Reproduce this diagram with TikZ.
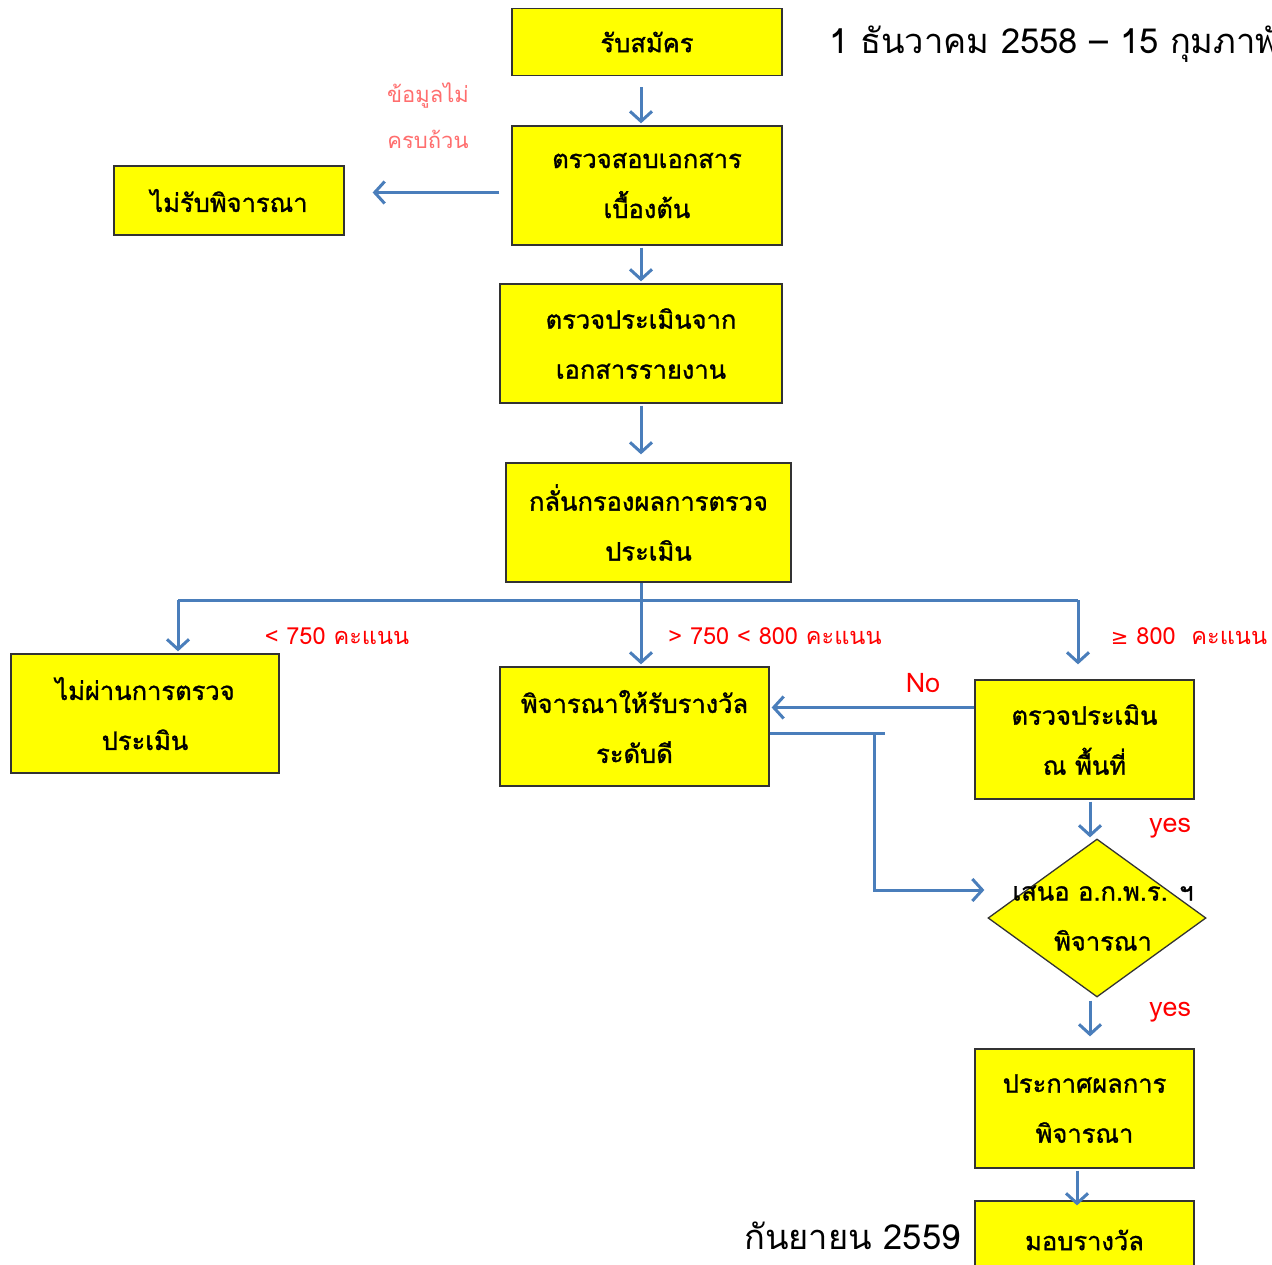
\documentclass[tikz,border=0pt]{standalone}
\usepackage{fontspec}
\usetikzlibrary{arrows.meta,shapes.geometric}
\newfontfamily\thaifont[Script=Thai]{Loma}
\newfontfamily\thaiboxfont[Script=Thai,FakeBold=1.2]{Loma}
\newfontfamily\symfont{DejaVu Sans}
\definecolor{flowblue}{RGB}{74,126,187}
\definecolor{boxyellow}{RGB}{255,255,0}
\definecolor{notered}{RGB}{255,0,0}
\definecolor{palered}{RGB}{255,110,110}

\tikzset{
  box/.style={draw=black!80, fill=boxyellow, line width=1.3pt, align=center,
    inner sep=0pt, minimum height=119, text depth=0pt,
    font=\thaiboxfont\fontsize{25.5}{50}\selectfont},
  boxtext/.style={align=center, text depth=0pt,
    font=\thaiboxfont\fontsize{25.5}{50}\selectfont},
  link/.style={draw=flowblue, line width=3pt},
  flow/.style={link, -{Straight Barb[length=10pt,width=22pt,line width=3pt]}},
  note/.style={text=notered, font=\thaifont\fontsize{23.5}{46}\selectfont},
  datetext/.style={font=\thaifont\fontsize{34.5}{40}\selectfont}
}

\begin{document}
\begin{tikzpicture}[x=1pt, y=-1pt]
    \useasboundingbox (0,0) rectangle (1272,1265);

    % boxes of the main column
    \node[box, minimum width=270, minimum height=67] (start) at (647,42) {รับสมัคร};
    \node[box, minimum width=270] (checkdoc) at (647,185.5) {ตรวจสอบเอกสาร\\เบื้องต้น};
    \node[box, minimum width=230, minimum height=69] (reject) at (229,200.5) {ไม่รับพิจารณา};
    \node[box, minimum width=282] (evaldoc) at (641,343.5) {ตรวจประเมินจาก\\เอกสารรายงาน};
    \node[box, minimum width=285] (screen) at (648.5,522.5) {กลั่นกรองผลการตรวจ\\ประเมิน};

    % result boxes
    \node[box, minimum width=268] (fail) at (145,713.5) {ไม่ผ่านการตรวจ\\ประเมิน};
    \node[box, minimum width=269] (good) at (634.5,726.5) {พิจารณาให้รับรางวัล\\ระดับดี};
    \node[box, minimum width=219] (onsite) at (1084.5,739.5) {ตรวจประเมิน\\ณ พื้นที่};
    \node[box, shape=diamond, minimum width=218, minimum height=158] (propose) at (1097,918) {};
    \node[boxtext] (proposetext) at (1103,918) {เสนอ อ.ก.พ.ร. ฯ\\พิจารณา};
    \node[box, minimum width=219] (announce) at (1084.5,1108.5) {ประกาศผลการ\\พิจารณา};
    \node[box, minimum width=219, minimum height=90] (award) at (1084.5,1246) {};
    \node[boxtext] (awardtext) at (1084.5,1240) {มอบรางวัล};

    % dates
    \node[datetext, anchor=west] (datefrom) at (826,43) {1 ธันวาคม 2558 – 15 กุมภาพันธ์ 2559};
    \node[datetext, anchor=east] (dateto) at (964,1236) {กันยายน 2559};

    % arrows down the column
    \draw[flow, shorten <=11pt, shorten >=2pt] ([xshift=-6]start.south) -- ([xshift=-6]checkdoc.north);
    \draw[flow, shorten <=2pt, shorten >=2pt] ([xshift=-6]checkdoc.south) -- (evaldoc.north);
    \draw[flow, shorten <=2pt, shorten >=8pt] (evaldoc.south) -- ([xshift=-7.5]screen.north);
    \draw[flow, shorten <=12pt, shorten >=28pt] ([yshift=-7]checkdoc.west) -- ([yshift=-7]checkdoc.west -| reject.east);
    \node[text=palered, font=\thaifont\fontsize{22}{46}\selectfont, align=center] (incomplete) at (428,116)
      {ข้อมูลไม่\\ครบถ้วน};

    % split by score
    \coordinate (split) at (641,600);
    \coordinate (lefttop) at (178,600);
    \coordinate (righttop) at (1078,600);
    \draw[link] ([xshift=-7.5]screen.south) -- (split);
    \draw[link] (lefttop) -- (righttop);
    \draw[flow, shorten >=2pt] (lefttop) -- (lefttop |- fail.north);
    \draw[flow, shorten >=2pt] (split) -- (split |- good.north);
    \draw[flow, shorten >=15pt] (righttop) -- (righttop |- onsite.north);
    \node[note] (low) at (337,636) {< 750 คะแนน};
    \node[note] (mid) at (775,636) {> 750 < 800 คะแนน};
    \node[note] (high) at (1189,636) {{\symfont\fontsize{21}{24}\selectfont ≥} 800\ \ คะแนน};

    % on-site result
    \draw[flow, shorten >=2pt] ([yshift=32]onsite.west) -- ([yshift=32]onsite.west -| good.east);
    \node[note, font=\thaifont\fontsize{27}{30}\selectfont] (nolabel) at (923,683) {No};
    \coordinate (bend) at (874,733);
    \draw[link] ([yshift=-6.5]good.east) -- ++(115,0);
    \draw[flow, shorten >=3pt] (bend) |- ([yshift=28]propose.west);
    \draw[flow, shorten <=2pt, shorten >=1pt] ([xshift=5.5]onsite.south) -- ([xshift=-7]propose.north);
    \node[note, font=\thaifont\fontsize{27}{30}\selectfont] (yesone) at (1170,828) {yes};
    \draw[flow, shorten <=3pt, shorten >=12pt] ([xshift=-7]propose.south) -- ([xshift=5.5]announce.north);
    \node[note, font=\thaifont\fontsize{27}{30}\selectfont] (yestwo) at (1170,1012) {yes};
    \draw[flow, shorten <=2pt, shorten >=-5pt] ([xshift=-7.5]announce.south) -- ([xshift=-7.5]award.north);
\end{tikzpicture}
\end{document}
